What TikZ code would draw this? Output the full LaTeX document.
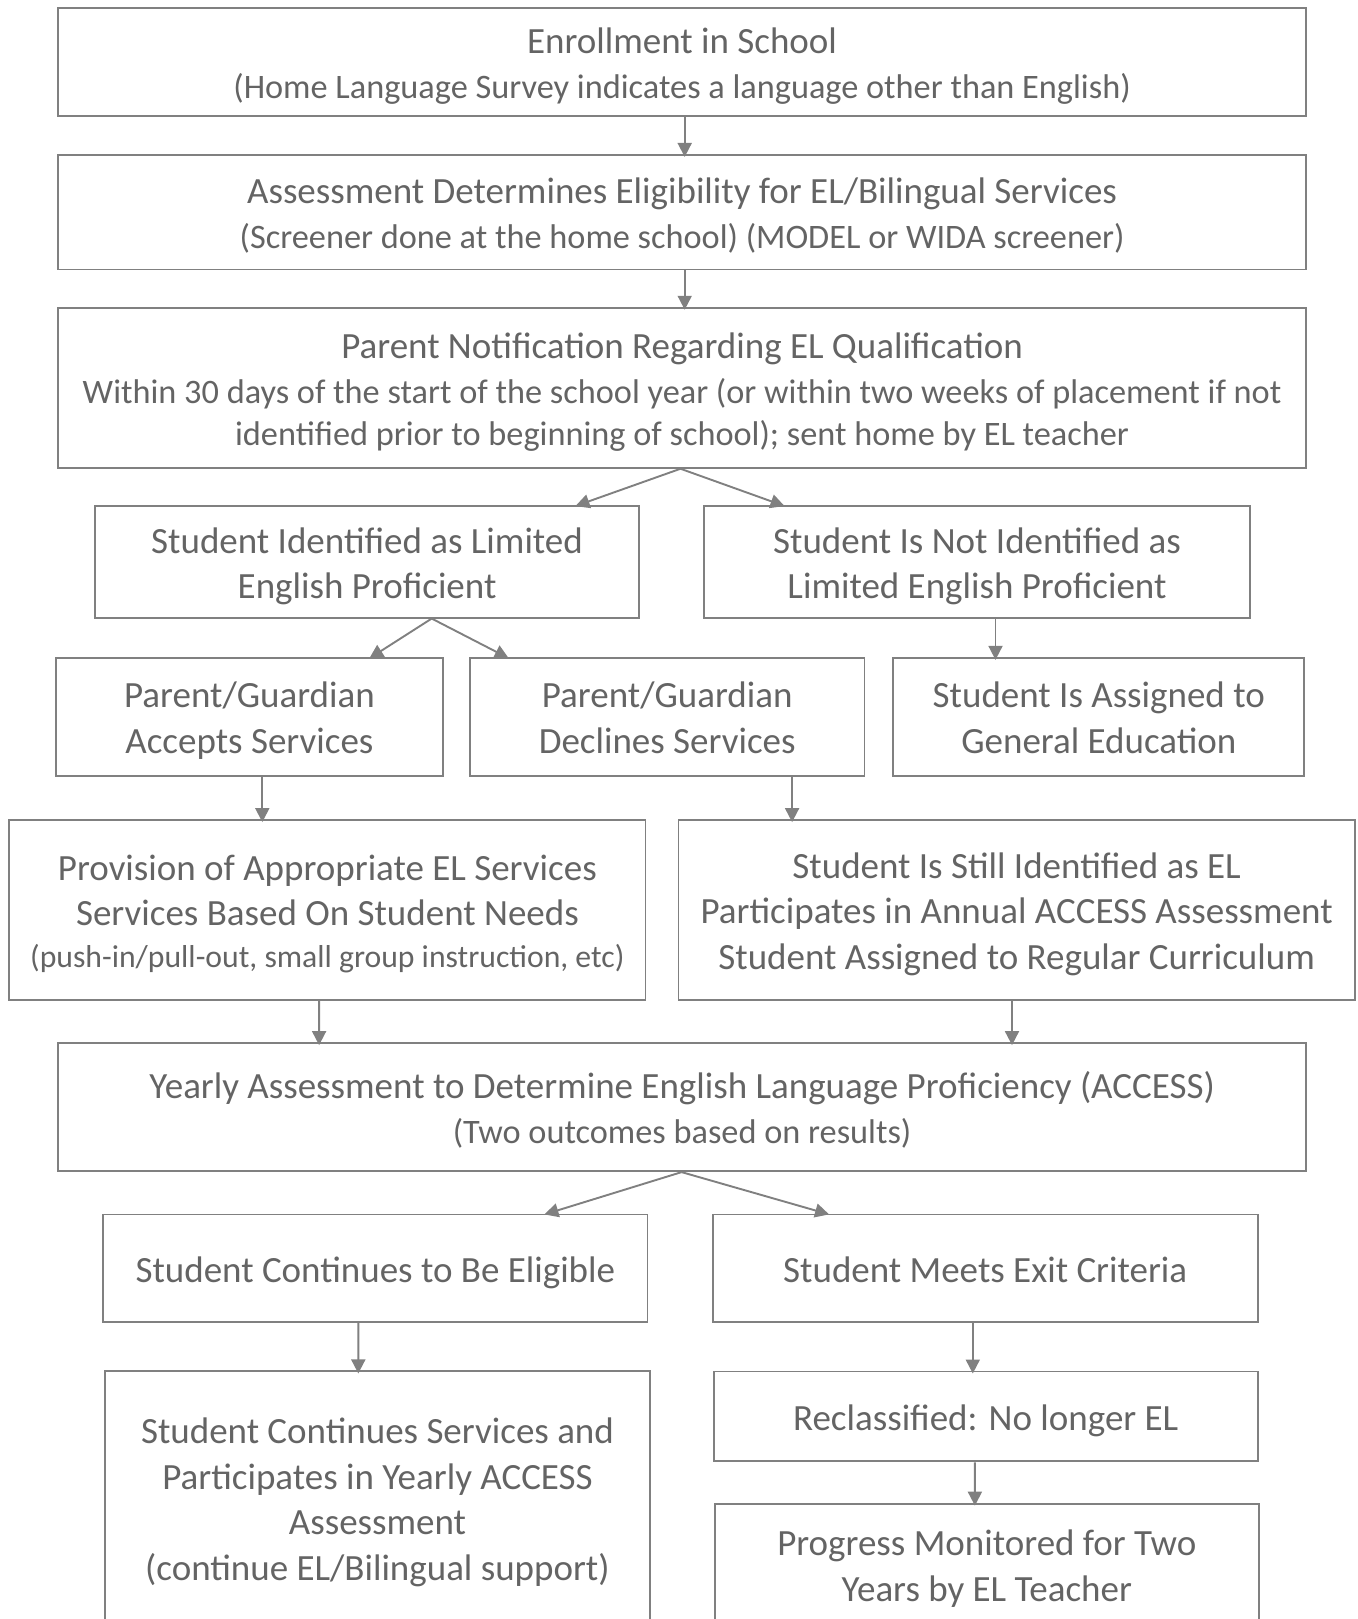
\documentclass[tikz,border=0pt]{standalone}
\usepackage{fontspec}
\setmainfont{Carlito}
\usetikzlibrary{arrows.meta,calc}
\definecolor{lineg}{HTML}{808080}
\definecolor{textg}{HTML}{646464}
\newcommand{\mytop}{\rule{0pt}{36pt}}
\newcommand{\mybot}{\rule[-8pt]{0pt}{8pt}}
\tikzset{
  box/.style={draw=lineg, line width=1.9pt, inner sep=0pt, align=center, text=textg,
    font=\fontsize{37}{45.5}\selectfont},
  arr/.style={draw=lineg, line width=1.9pt, shorten >=-3pt, -{Triangle[width=14pt,length=14pt]}},
}
\begin{document}
\begin{tikzpicture}[x=1pt,y=-1pt]
\useasboundingbox (0,0) rectangle (1357,1619);
\node[box, minimum width=1248.6, minimum height=107.4] (b1) at (682.1,62.0)
  {\fontsize{37}{44}\selectfont\mytop Enrollment in School\\\fontsize{34.3}{44}\selectfont(Home Language Survey indicates a language other than English)\mybot};
\node[box, minimum width=1248.6, minimum height=114.6] (b2) at (682.1,212.2)
  {\fontsize{37}{43.5}\selectfont\mytop Assessment Determines Eligibility for EL/Bilingual Services\\\fontsize{34.3}{43.5}\selectfont(Screener done at the home school) (MODEL or WIDA screener)\mybot};
\node[box, minimum width=1248.6, minimum height=160.1] (b3) at (682.1,387.75)
  {\fontsize{37}{44}\selectfont\mytop Parent Notification Regarding EL Qualification\\\fontsize{34.3}{43.5}\selectfont Within 30 days of the start of the school year (or within two weeks of placement if not\\[-4pt]\fontsize{34.3}{43.5}\selectfont identified prior to beginning of school); sent home by EL teacher\mybot};
\node[box, minimum width=544.2, minimum height=111.6] (b4) at (367.1,561.8)
  {\mytop Student Identified as Limited\\English Proficient\mybot};
\node[box, minimum width=545.3, minimum height=111.6] (b5) at (977.0,561.8)
  {\mytop Student Is Not Identified as\\Limited English Proficient\mybot};
\node[box, minimum width=387.2, minimum height=117.8] (b6) at (249.4,716.7)
  {\mytop Parent/Guardian\\Accepts Services\mybot};
\node[box, minimum width=394.5, minimum height=117.8] (b7) at (667.2,716.7)
  {\mytop Parent/Guardian\\Declines Services\mybot};
\node[box, minimum width=411.0, minimum height=117.8] (b8) at (1098.8,716.7)
  {\mytop Student Is Assigned to\\General Education\mybot};
\node[box, minimum width=636.1, minimum height=179.7] (b9) at (327.4,909.9)
  {\mytop Provision of Appropriate EL Services\\Services Based On Student Needs\\[-4pt]\fontsize{31.7}{42}\selectfont(push-in/pull-out, small group instruction, etc)\mybot};
\node[box, minimum width=676.4, minimum height=179.7] (b10) at (1016.7,909.9)
  {\mytop Student Is Still Identified as EL\\Participates in Annual ACCESS Assessment\\Student Assigned to Regular Curriculum\mybot};
\node[box, minimum width=1248.6, minimum height=128.1] (b11) at (682.1,1107.1)
  {\fontsize{37}{44}\selectfont\mytop Yearly Assessment to Determine English Language Proficiency (ACCESS)\\\fontsize{34.3}{44}\selectfont(Two outcomes based on results)\mybot};
\node[box, minimum width=544.2, minimum height=107.4] (b12) at (375.4,1268.2)
  {\mytop Student Continues to Be Eligible\mybot};
\node[box, minimum width=545.2, minimum height=107.4] (b13) at (985.2,1268.2)
  {\mytop Student Meets Exit Criteria\mybot};
\node[box, minimum width=544.3, minimum height=253.6] (b14) at (377.5,1498.2)
  {\mytop Student Continues Services and\\Participates in Yearly ACCESS\\Assessment\\(continue EL/Bilingual support)\mybot};
\node[box, minimum width=544.2, minimum height=89.9] (b15) at (985.7,1416.4)
  {\mytop Reclassified: No longer EL\mybot};
\node[box, minimum width=544.3, minimum height=121.8] (b16) at (986.8,1564.5)
  {\mytop Progress Monitored for Two\\Years by EL Teacher\mybot};
\draw[arr] ([xshift=2.6]b1.south) -- ([xshift=2.6]b2.north);
\draw[arr] ([xshift=2.6]b2.south) -- ([xshift=2.6]b3.north);
\draw[arr] ([xshift=-1.6]b3.south) -- ([xshift=211.2]b4.north);
\draw[arr] ([xshift=-1.6]b3.south) -- ([xshift=-195.3]b5.north);
\draw[arr] ([xshift=64.6]b4.south) -- ([xshift=122.4]b6.north);
\draw[arr] ([xshift=64.6]b4.south) -- ([xshift=-161.2]b7.north);
\draw[arr] ([xshift=18.5]b5.south) -- ([xshift=-103.3]b8.north);
\draw[arr] ([xshift=12.9]b6.south) -- ([xshift=-65.1]b9.north);
\draw[arr] ([xshift=124.9]b7.south) -- ([xshift=-224.6]b10.north);
\draw[arr] ([xshift=-8.3]b9.south) -- ([xshift=-363]b11.north);
\draw[arr] ([xshift=-4.7]b10.south) -- ([xshift=329.9]b11.north);
\draw[arr] ([xshift=-0.5]b11.south) -- ([xshift=171.9]b12.north);
\draw[arr] ([xshift=-0.5]b11.south) -- ([xshift=-159]b13.north);
\draw[arr] ([xshift=-17.1]b12.south) -- ([xshift=-19.2]b14.north);
\draw[arr] ([xshift=-12.4]b13.south) -- ([xshift=-12.9]b15.north);
\draw[arr] ([xshift=-10.8]b15.south) -- ([xshift=-11.9]b16.north);
\end{tikzpicture}
\end{document}
